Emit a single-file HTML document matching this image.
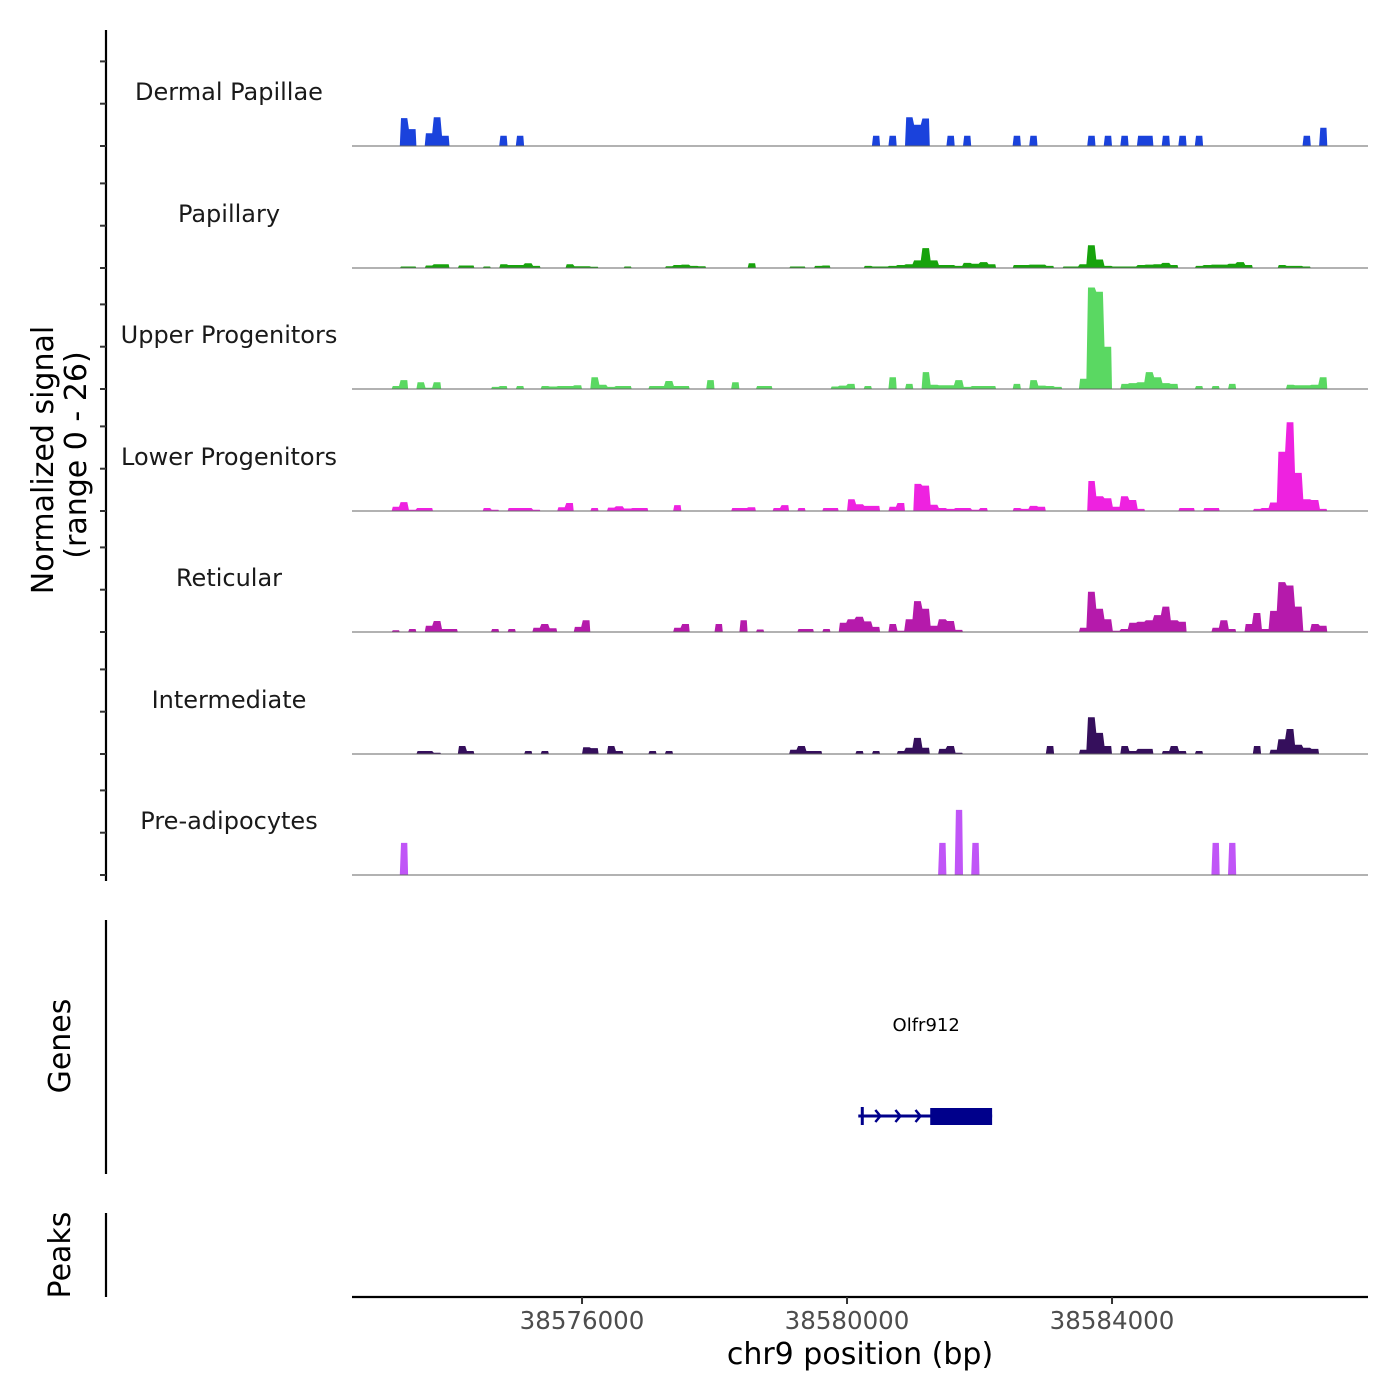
<!DOCTYPE html>
<html><head><meta charset="utf-8"><style>
html,body{margin:0;padding:0;background:#fff;}
svg{display:block;font-family:"DejaVu Sans","Liberation Sans",sans-serif;}
</style></head><body>
<svg id="chart" width="1400" height="1400" viewBox="0 0 1400 1400" xmlns="http://www.w3.org/2000/svg">
<g id="tracks"></g>
<g id="axes"></g>
</svg>
<script>
const trackNames = ["Dermal Papillae","Papillary","Upper Progenitors","Lower Progenitors","Reticular","Intermediate","Pre-adipocytes"];
const trackColors = ["#1a42dc","#17a30c","#5ad862","#ee22e0","#b51aab","#350f5c","#c055f7"];
const binStart = 38572500;
const binSize = 125;
const dermal = [0,0,0,0,0,0,6.6,4,0,3, 6.8,2.4,0,0,0,0,0,0,2.4,0, 2.4,0,0,0,0,0,0,0,0,0, 0,0,0,0,0,0,0,0,0,0, 0,0,0,0,0,0,0,0,0,0, 0,0,0,0,0,0,0,0,0,0, 0,0,0,2.4,0,2.4,0,6.8,5,6.5, 0,0,2.4,0,2.4,0,0,0,0,0, 2.4,0,2.4,0,0,0,0,0,0,2.4, 0,2.4,0,2.4,0,2.4,2.4,0,2.4,0, 2.4,0,2.4,0,0,0,0,0,0,0, 0,0,0,0,0,2.4,0,4.3,0,0];
const papillary = [0,0,0,0,0,0,0.35,0.35,0,0.6, 0.9,0.9,0,0.6,0.6,0,0.35,0,0.9,0.7, 0.7,1.1,0.5,0,0,0,0.9,0.4,0.4,0.3, 0,0,0,0.35,0,0,0,0,0.4,0.7, 0.8,0.5,0.4,0,0,0,0,0,1.1,0, 0,0,0,0.35,0.35,0,0.5,0.6,0,0, 0,0,0.5,0.35,0.35,0.5,0.7,0.9,1.8,4.7, 1.8,0.7,0.7,0.5,1.2,1.0,1.4,0.9,0,0, 0.7,0.7,0.8,0.8,0.5,0,0.35,0.35,0.9,5.4, 2.0,0.5,0.35,0.35,0.35,0.7,0.8,0.9,1.2,0.7, 0,0,0.5,0.7,0.8,0.8,1.0,1.4,0.7,0, 0,0,0.7,0.5,0.5,0.35,0,0,0,0];
const upper = [0,0,0,0,0,0.7,2.1,0,1.6,0.3, 1.6,0,0,0,0,0,0,0.5,0.7,0, 0.7,0,0,0.7,0.6,0.7,0.7,0.9,0,2.8, 1.0,0.5,0.7,0.7,0,0,0.7,0.7,1.9,0.7, 0.7,0,0,2.1,0,0,1.6,0,0,0.7, 0.7,0,0,0,0,0,0,0,0.6,0.8, 1.2,0,0.7,0,0,2.8,0,1.2,0,4.0, 1.0,0.9,0.9,2.1,0.5,0.7,0.7,0.7,0,0, 1.2,0,2.1,0.8,0.7,0.5,0,0,2.4,24, 23,10,0,1.2,1.4,1.6,4.0,2.8,1.4,1.2, 0,0,0.7,0,0.7,0,1.2,0,0,0, 0,0,0,1.0,0.9,0.9,1.0,2.8,0,0];
const lower = [0,0,0,0,0,1.0,2.1,0.3,0.7,0.7, 0,0,0,0,0,0,0.7,0.3,0,0.7, 0.7,0.7,0.3,0,0,0.9,1.9,0,0,0.7, 0,0.8,1.1,0.6,0.7,0.7,0,0,0,1.4, 0,0,0,0,0,0,0.7,0.7,0.9,0, 0,0.7,1.4,0,0.7,0,0,0.7,0.7,0, 2.8,1.6,1.2,1.2,0,1.0,1.9,0,6.4,6.0, 1.5,0.7,0.5,0.7,0.7,0.3,0.7,0,0,0, 0.7,0.5,1.2,1.0,0,0,0,0,0,7.1, 3.5,3.0,1.0,3.5,2.6,0.5,0,0,0,0, 0.7,0.7,0,0.7,0.7,0,0,0,0,0.5, 0.7,2.0,14,21,9,2.8,2.6,0.5,0,0];
const reticular = [0,0,0,0,0,0.4,0,0.7,0,1.5, 2.6,0.7,0.7,0,0,0,0,0.7,0,0.7, 0,0,1.0,1.9,0.9,0,0,1.2,2.8,0, 0,0,0,0,0,0,0,0,0,1.0, 1.9,0,0,0,1.9,0,0,2.8,0,0.6, 0,0,0,0,0.7,0.7,0,0.7,0,2.2, 3.0,3.6,2.5,1.2,0,1.9,0.3,3.0,7.3,5.5, 1.5,3.0,2.6,0.5,0,0,0,0,0,0, 0,0,0,0,0,0,0,0,1.0,9.5, 5.5,3.0,0.3,0.7,2.2,2.4,2.8,4.0,6.0,2.8, 2.4,0,0,0,1.0,2.8,0.7,0,1.9,4.5, 0.7,5.0,11.8,11.0,6.0,0.3,1.9,1.5,0,0];
const intermediate = [0,0,0,0,0,0,0,0,0.7,0.7, 0.3,0,0,1.9,0.7,0,0,0,0,0, 0,0.7,0,0.7,0,0,0,0,1.6,1.4, 0,1.9,0.7,0,0,0,0.7,0,0.7,0, 0,0,0,0,0,0,0,0,0,0, 0,0,0,1.0,1.9,0.7,0.7,0,0,0, 0,0.7,0,0.7,0,0,0.7,1.5,3.8,1.5, 0,1.2,1.9,0.3,0,0,0,0,0,0, 0,0,0,0,1.9,0,0,0,1.0,8.7, 5,1.9,0,1.9,0.7,1.2,1.2,0,0.7,1.9, 0.7,0,0.7,0,0,0,0,0,0,1.9, 0,1.0,3.5,5.9,2.2,1.5,1.2,0,0,0];
const preadipo = [0,0,0,0,0,0,7.6,0,0,0, 0,0,0,0,0,0,0,0,0,0, 0,0,0,0,0,0,0,0,0,0, 0,0,0,0,0,0,0,0,0,0, 0,0,0,0,0,0,0,0,0,0, 0,0,0,0,0,0,0,0,0,0, 0,0,0,0,0,0,0,0,0,0, 0,7.6,0,15.4,0,7.6,0,0,0,0, 0,0,0,0,0,0,0,0,0,0, 0,0,0,0,0,0,0,0,0,0, 0,0,0,0,7.6,0,7.6,0,0,0, 0,0,0,0,0,0,0,0,0,0];
const xTicks = [38576000, 38580000, 38584000];
const yTicks = [0, 10, 20];
const geneName = "Olfr912";
const geneStart = 38580170;
const geneEnd = 38582190;
const exonStart = 38581256;
const exonEnd = 38582190;

const NS="http://www.w3.org/2000/svg";
const X0=352, X1=1368, BP0=38572528, PXBP=0.06625;
function xs(bp){return X0+(bp-BP0)*PXBP;}
const UNIT=4.23;
const baselines=[146,268,389,511,632,754,875];
function ys(base,v){return base-v*UNIT;}
function mk(tag,attrs,parent){const e=document.createElementNS(NS,tag);for(const k in attrs)e.setAttribute(k,attrs[k]);parent.appendChild(e);return e;}

const tracks=document.getElementById('tracks');
const axes=document.getElementById('axes');
const allData=[dermal,papillary,upper,lower,reticular,intermediate,preadipo];

allData.forEach((arr,t)=>{
  const base=baselines[t];
  const g=mk('g',{},tracks);
  
  
  const lab=mk('text',{x:229,y:base-46,'text-anchor':'middle','font-size':24,fill:'#1a1a1a'},g);
  lab.textContent=trackNames[t];
  
  
  let d='';
  arr.forEach((v,i)=>{
    if(v<=0)return;
    const xa=xs(binStart+i*binSize), xb=xs(binStart+(i+1)*binSize);
    const prev=i>0?arr[i-1]:0;
    if(prev<=0) d+=`M${xa.toFixed(1)},${base} L${(xa+1.2).toFixed(1)},${ys(base,v).toFixed(1)} `;
    else d+=`L${(xa+0.8).toFixed(1)},${ys(base,v).toFixed(1)} `;
    d+=`L${(xb-0.8).toFixed(1)},${ys(base,v).toFixed(1)} `;
    const next=i<arr.length-1?arr[i+1]:0;
    if(next<=0) d+=`L${xb.toFixed(1)},${base} Z `;
  });
  const p=mk('path',{d:d,fill:trackColors[t]},g);
  
  
  const bl=mk('line',{x1:X0,x2:X1,y1:base,y2:base,stroke:'#666','stroke-width':1},g);
  
  
});

const ya=mk('line',{x1:106,x2:106,y1:30,y2:881,stroke:'#000','stroke-width':2.2},axes);


baselines.forEach(base=>{
  yTicks.forEach(v=>{
    const tk=mk('line',{x1:100,x2:106,y1:ys(base,v),y2:ys(base,v),stroke:'#333','stroke-width':2},axes);
    
    
  });
});
const yt=mk('text',{transform:'translate(53,460) rotate(-90)','text-anchor':'middle','font-size':30,fill:'#000'},axes);
yt.textContent='Normalized signal';


const yt2=mk('text',{transform:'translate(86,455) rotate(-90)','text-anchor':'middle','font-size':30,fill:'#000'},axes);
yt2.textContent='(range 0 - 26)';



const ga=mk('line',{x1:106,x2:106,y1:920,y2:1174,stroke:'#000','stroke-width':2.2},axes);


const gt=mk('text',{transform:'translate(70,1046) rotate(-90)','text-anchor':'middle','font-size':30,fill:'#000'},axes);
gt.textContent='Genes';


const gg=mk('g',{},axes);


const gl=mk('text',{x:(xs(geneStart)+xs(geneEnd))/2+1,y:1031,'text-anchor':'middle','font-size':18,fill:'#000'},gg);
gl.textContent=geneName;


const gline=mk('line',{x1:xs(geneStart),x2:xs(geneEnd),y1:1116,y2:1116,stroke:'#00008b','stroke-width':3},gg);


const gex=mk('rect',{x:xs(exonStart),y:1108,width:xs(exonEnd)-xs(exonStart),height:17,fill:'#00008b'},gg);


const gs=mk('line',{x1:xs(geneStart)+4,x2:xs(geneStart)+4,y1:1107,y2:1125,stroke:'#00008b','stroke-width':3},gg);


[0.12,0.27,0.42].forEach(f=>{
  const ax=xs(geneStart)+f*(xs(geneEnd)-xs(geneStart))+6;
  const ch=mk('polyline',{points:`${ax-5},${1110} ${ax},${1116} ${ax-5},${1122}`,fill:'none',stroke:'#00008b','stroke-width':2.5},gg);
  
  
});

const pa=mk('line',{x1:106,x2:106,y1:1213,y2:1297,stroke:'#000','stroke-width':2.2},axes);


const pt=mk('text',{transform:'translate(70,1255) rotate(-90)','text-anchor':'middle','font-size':30,fill:'#000'},axes);
pt.textContent='Peaks';



const xa=mk('line',{x1:X0,x2:X1,y1:1297,y2:1297,stroke:'#000','stroke-width':2.2},axes);


xTicks.forEach(v=>{
  const tk=mk('line',{x1:xs(v),x2:xs(v),y1:1297,y2:1304,stroke:'#333','stroke-width':2},axes);
  
  
  const tl=mk('text',{x:xs(v),y:1329,'text-anchor':'middle','font-size':24.5,fill:'#4d4d4d'},axes);
  tl.textContent=String(v);
  
  
});
const xt=mk('text',{x:860,y:1364,'text-anchor':'middle','font-size':30,fill:'#000'},axes);
xt.textContent='chr9 position (bp)';


</script>
</body></html>
